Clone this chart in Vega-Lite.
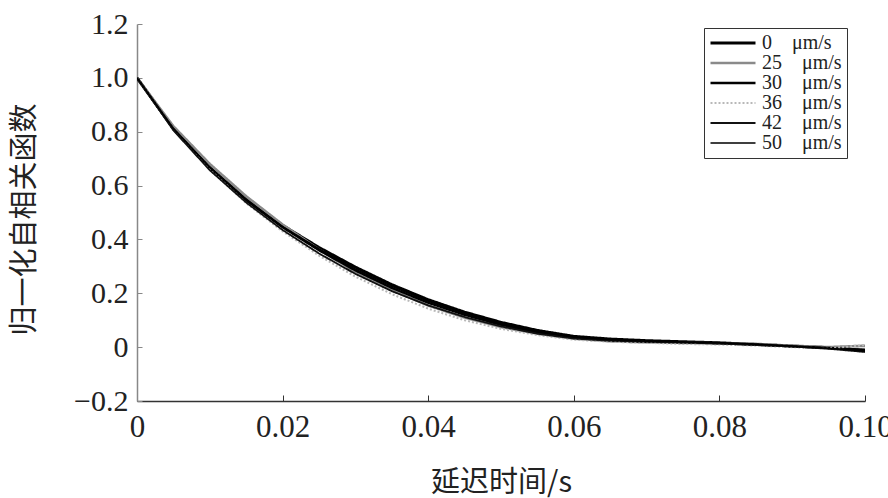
{
  "$schema": "https://vega.github.io/schema/vega-lite/v6.json",
  "width": 728,
  "height": 377,
  "autosize": {"type": "none"},
  "padding": {"left": 137, "top": 24, "right": 23, "bottom": 97},
  "background": "white",
  "config": {
    "view": {"stroke": null},
    "axis": {"grid": false, "labelFont": "Liberation Serif", "labelColor": "#222", "titleColor": "#222", "titleFontWeight": "normal"}
  },
  "data": {"values": [
    {"s":"0","t":0,"v":1.0},{"s":"0","t":0.005,"v":0.812},{"s":"0","t":0.01,"v":0.668},{"s":"0","t":0.015,"v":0.55},{"s":"0","t":0.02,"v":0.452},{"s":"0","t":0.025,"v":0.37},{"s":"0","t":0.03,"v":0.297},{"s":"0","t":0.035,"v":0.232},{"s":"0","t":0.04,"v":0.176},{"s":"0","t":0.045,"v":0.13},{"s":"0","t":0.05,"v":0.092},{"s":"0","t":0.055,"v":0.062},{"s":"0","t":0.06,"v":0.04},{"s":"0","t":0.065,"v":0.03},{"s":"0","t":0.07,"v":0.024},{"s":"0","t":0.075,"v":0.02},{"s":"0","t":0.08,"v":0.016},{"s":"0","t":0.085,"v":0.01},{"s":"0","t":0.09,"v":0.004},{"s":"0","t":0.095,"v":-0.002},{"s":"0","t":0.1,"v":-0.012},
    {"s":"25","t":0,"v":1.0},{"s":"25","t":0.005,"v":0.82},{"s":"25","t":0.01,"v":0.68},{"s":"25","t":0.015,"v":0.56},{"s":"25","t":0.02,"v":0.455},{"s":"25","t":0.025,"v":0.362},{"s":"25","t":0.03,"v":0.28},{"s":"25","t":0.035,"v":0.212},{"s":"25","t":0.04,"v":0.155},{"s":"25","t":0.045,"v":0.11},{"s":"25","t":0.05,"v":0.075},{"s":"25","t":0.055,"v":0.05},{"s":"25","t":0.06,"v":0.032},{"s":"25","t":0.065,"v":0.022},{"s":"25","t":0.07,"v":0.018},{"s":"25","t":0.075,"v":0.016},{"s":"25","t":0.08,"v":0.014},{"s":"25","t":0.085,"v":0.012},{"s":"25","t":0.09,"v":0.005},{"s":"25","t":0.095,"v":0.0},{"s":"25","t":0.1,"v":0.005},
    {"s":"30","t":0,"v":1.0},{"s":"30","t":0.005,"v":0.81},{"s":"30","t":0.01,"v":0.665},{"s":"30","t":0.015,"v":0.545},{"s":"30","t":0.02,"v":0.445},{"s":"30","t":0.025,"v":0.36},{"s":"30","t":0.03,"v":0.285},{"s":"30","t":0.035,"v":0.22},{"s":"30","t":0.04,"v":0.165},{"s":"30","t":0.045,"v":0.12},{"s":"30","t":0.05,"v":0.083},{"s":"30","t":0.055,"v":0.055},{"s":"30","t":0.06,"v":0.035},{"s":"30","t":0.065,"v":0.025},{"s":"30","t":0.07,"v":0.02},{"s":"30","t":0.075,"v":0.018},{"s":"30","t":0.08,"v":0.015},{"s":"30","t":0.085,"v":0.01},{"s":"30","t":0.09,"v":0.003},{"s":"30","t":0.095,"v":-0.003},{"s":"30","t":0.1,"v":-0.01},
    {"s":"36","t":0,"v":1.0},{"s":"36","t":0.005,"v":0.808},{"s":"36","t":0.01,"v":0.66},{"s":"36","t":0.015,"v":0.535},{"s":"36","t":0.02,"v":0.43},{"s":"36","t":0.025,"v":0.34},{"s":"36","t":0.03,"v":0.262},{"s":"36","t":0.035,"v":0.197},{"s":"36","t":0.04,"v":0.143},{"s":"36","t":0.045,"v":0.1},{"s":"36","t":0.05,"v":0.068},{"s":"36","t":0.055,"v":0.045},{"s":"36","t":0.06,"v":0.028},{"s":"36","t":0.065,"v":0.02},{"s":"36","t":0.07,"v":0.016},{"s":"36","t":0.075,"v":0.012},{"s":"36","t":0.08,"v":0.01},{"s":"36","t":0.085,"v":0.006},{"s":"36","t":0.09,"v":0.0},{"s":"36","t":0.095,"v":-0.005},{"s":"36","t":0.1,"v":0.008},
    {"s":"42","t":0,"v":1.0},{"s":"42","t":0.005,"v":0.805},{"s":"42","t":0.01,"v":0.657},{"s":"42","t":0.015,"v":0.537},{"s":"42","t":0.02,"v":0.435},{"s":"42","t":0.025,"v":0.348},{"s":"42","t":0.03,"v":0.272},{"s":"42","t":0.035,"v":0.208},{"s":"42","t":0.04,"v":0.155},{"s":"42","t":0.045,"v":0.112},{"s":"42","t":0.05,"v":0.077},{"s":"42","t":0.055,"v":0.05},{"s":"42","t":0.06,"v":0.032},{"s":"42","t":0.065,"v":0.024},{"s":"42","t":0.07,"v":0.02},{"s":"42","t":0.075,"v":0.017},{"s":"42","t":0.08,"v":0.013},{"s":"42","t":0.085,"v":0.008},{"s":"42","t":0.09,"v":0.002},{"s":"42","t":0.095,"v":-0.006},{"s":"42","t":0.1,"v":-0.018},
    {"s":"50","t":0,"v":1.0},{"s":"50","t":0.005,"v":0.812},{"s":"50","t":0.01,"v":0.667},{"s":"50","t":0.015,"v":0.548},{"s":"50","t":0.02,"v":0.448},{"s":"50","t":0.025,"v":0.365},{"s":"50","t":0.03,"v":0.29},{"s":"50","t":0.035,"v":0.226},{"s":"50","t":0.04,"v":0.17},{"s":"50","t":0.045,"v":0.125},{"s":"50","t":0.05,"v":0.087},{"s":"50","t":0.055,"v":0.058},{"s":"50","t":0.06,"v":0.037},{"s":"50","t":0.065,"v":0.027},{"s":"50","t":0.07,"v":0.022},{"s":"50","t":0.075,"v":0.019},{"s":"50","t":0.08,"v":0.016},{"s":"50","t":0.085,"v":0.011},{"s":"50","t":0.09,"v":0.004},{"s":"50","t":0.095,"v":-0.004},{"s":"50","t":0.1,"v":-0.015}
  ]},
  "mark": {"type": "line", "clip": true},
  "encoding": {
    "x": {"field": "t", "type": "quantitative",
      "scale": {"domain": [0, 0.1], "nice": false, "zero": false},
      "axis": {"values": [0, 0.02, 0.04, 0.06, 0.08, 0.1], "labelExpr": "datum.value == 0 ? '0' : format(datum.value, '.2f')",
        "title": "延迟时间/s", "titleFont": "Noto Sans CJK SC", "titleFontSize": 29, "titleBaseline": "middle", "titleY": 81,
        "labelFontSize": 31, "labelPadding": 17, "tickSize": -6, "tickColor": "#333", "domainColor": "#333", "domainWidth": 1.5, "labelFlush": false}},
    "y": {"field": "v", "type": "quantitative",
      "scale": {"domain": [-0.2, 1.2], "nice": false, "zero": false},
      "axis": {"values": [-0.2, 0, 0.2, 0.4, 0.6, 0.8, 1.0, 1.2], "labelExpr": "datum.value == 0 ? '0' : format(datum.value, '.1f')",
        "title": "归一化自相关函数", "titleFont": "Noto Sans CJK SC", "titleFontSize": 29,
        "titleX": -113, "titleY": 195, "titleAngle": -90, "titleBaseline": "middle", "titleAlign": "center",
        "labelFontSize": 30, "labelPadding": 14, "tickSize": -5, "tickColor": "#888", "domainColor": "#888", "domainWidth": 1.5, "labelFlush": false}},
    "color": {"field": "s", "type": "nominal", "sort": null,
      "scale": {"domain": ["0", "25", "30", "36", "42", "50"],
        "range": ["#000000", "#8a8a8a", "#000000", "#b8b8b8", "#111111", "#000000"]},
      "legend": {"orient": "none", "legendX": 567, "legendY": 4, "title": null, "symbolType": "stroke", "symbolSize": 2025,
        "clipHeight": 20,
        "labelExpr": "datum.label == '0' ? '0\u00a0\u00a0\u00a0\u00a0μm/s' : datum.label + '\u00a0\u00a0\u00a0\u00a0μm/s'",
        "labelFont": "Liberation Serif", "labelFontSize": 20, "labelColor": "#222", "strokeColor": "#333", "fillColor": "white",
        "padding": 5, "rowPadding": 0, "labelOffset": 5}},
    "strokeWidth": {"field": "s", "type": "nominal", "sort": null,
      "scale": {"domain": ["0", "25", "30", "36", "42", "50"],
        "range": [3, 1.5, 3, 1.2, 2.2, 3]}},
    "strokeDash": {"field": "s", "type": "nominal", "sort": null,
      "scale": {"domain": ["0", "25", "30", "36", "42", "50"],
        "range": [[1, 0], [1, 0], [1, 0], [2, 2], [1, 0], [1, 0]]}}
  }
}
